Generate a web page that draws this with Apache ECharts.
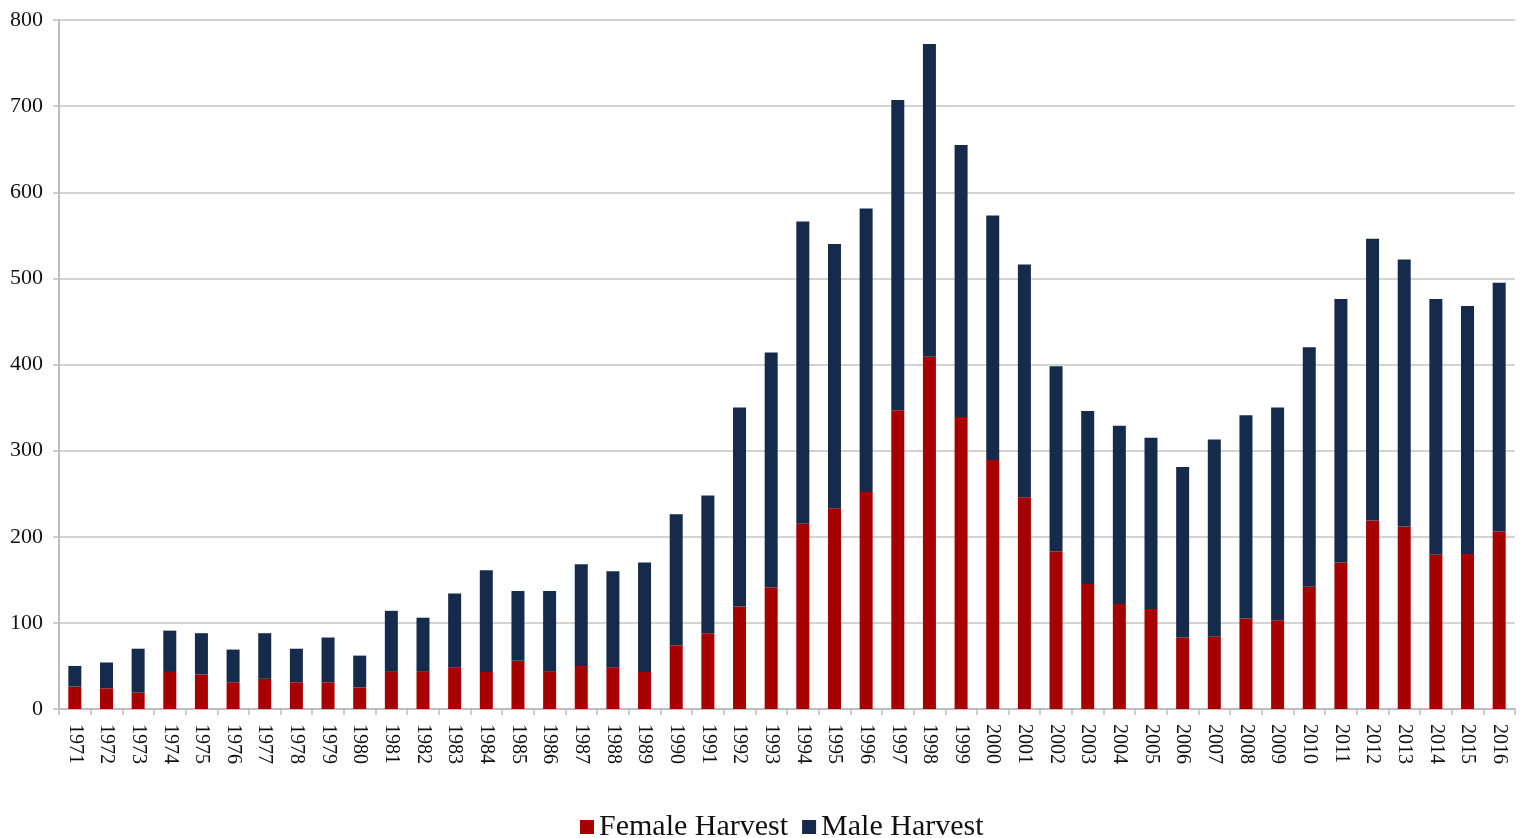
<!DOCTYPE html>
<html>
<head>
<meta charset="utf-8">
<script src="https://cdn.jsdelivr.net/npm/echarts@6/dist/echarts.min.js"></script>
<style>
html,body{margin:0;padding:0;background:#fff;}
#chart{width:1525px;height:838px;}
</style>
</head>
<body>
<div id="chart"></div>
<script>
const years = ['1971','1972','1973','1974','1975','1976','1977','1978','1979','1980','1981','1982','1983','1984','1985','1986','1987','1988','1989','1990','1991','1992','1993','1994','1995','1996','1997','1998','1999','2000','2001','2002','2003','2004','2005','2006','2007','2008','2009','2010','2011','2012','2013','2014','2015','2016'];
const femaleHarvest = [26,24,19,43,40,31,35,31,31,25,44,44,48,43,56,44,50,48,43,74,88,119,141,215,233,252,347,409,339,289,246,183,145,122,116,83,84,105,103,142,170,219,212,179,180,206];
const maleHarvest = [24,30,51,48,48,38,53,39,52,37,70,62,86,118,81,93,118,112,127,152,160,231,273,351,307,329,360,363,316,284,270,215,201,207,199,198,229,236,247,278,306,327,310,297,288,289];
const yTicks = [0,100,200,300,400,500,600,700,800];

const font = '"Liberation Serif", "Times New Roman", serif';
const chart = echarts.init(document.getElementById('chart'));
chart.setOption({
  animation: false,
  backgroundColor: '#ffffff',
  textStyle: { fontFamily: font },
  grid: { left: 59, right: 10, top: 20, bottom: 129, containLabel: false },
  legend: {
    top: 807,
    left: 575,
    itemWidth: 14,
    itemHeight: 14,
    itemGap: 14,
    icon: 'rect',
    textStyle: { fontFamily: font, fontSize: 30, color: '#111111' },
    data: ['Female Harvest', 'Male Harvest']
  },
  xAxis: {
    type: 'category',
    data: years,
    boundaryGap: true,
    axisLine: { lineStyle: { color: '#bdbdbd', width: 2 } },
    axisTick: { show: true, length: 6, lineStyle: { color: '#bdbdbd', width: 1.5 } },
    axisLabel: { rotate: -90, interval: 0, margin: 15, fontFamily: font, fontSize: 20, color: '#111111' }
  },
  yAxis: {
    type: 'value',
    min: yTicks[0],
    max: yTicks[yTicks.length - 1],
    interval: 100,
    axisLine: { show: true, lineStyle: { color: '#bdbdbd', width: 2 } },
    axisTick: { show: true, length: 6, lineStyle: { color: '#bdbdbd', width: 1.5 } },
    axisLabel: { margin: 16, fontFamily: font, fontSize: 22, color: '#111111' },
    splitLine: { show: true, lineStyle: { color: '#c4c4c4', width: 1.5 } }
  },
  series: [
    {
      name: 'Female Harvest',
      type: 'bar',
      stack: 'h',
      data: femaleHarvest,
      barWidth: 13,
      itemStyle: { color: '#a60000' }
    },
    {
      name: 'Male Harvest',
      type: 'bar',
      stack: 'h',
      data: maleHarvest,
      barWidth: 13,
      itemStyle: { color: '#162b4b' }
    }
  ]
});
</script>
</body>
</html>
